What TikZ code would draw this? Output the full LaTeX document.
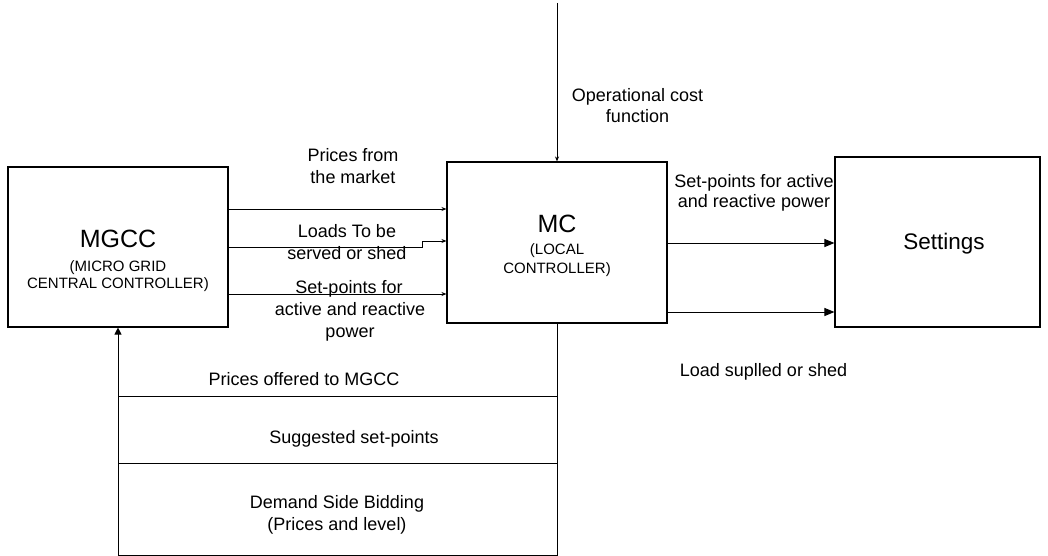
\documentclass[tikz,border=0pt]{standalone}
\usepackage{fontspec}
\setmainfont{Liberation Sans}
\usetikzlibrary{arrows.meta}
\begin{document}
\begin{tikzpicture}[x=1pt,y=-1pt,
  box/.style={draw, line width=1.1pt, inner sep=0pt},
  lbl/.style={anchor=base, inner sep=0pt, font=\fontsize{18}{21}\selectfont},
  ttl/.style={anchor=base, inner sep=0pt, font=\fontsize{25}{30}\selectfont},
  sub/.style={anchor=base, inner sep=0pt, font=\fontsize{15}{18}\selectfont},
  conn/.style={line width=1pt},
  sarr/.style={conn, -{Stealth[length=5pt,width=4pt]}},
  marr/.style={conn, -{Triangle[length=7pt,width=7pt]}},
  barr/.style={conn, -{Triangle[length=10pt,width=8pt]}}]
\useasboundingbox (0,0) rectangle (1048,556);

% boxes
\node[box, minimum width=220pt, minimum height=160pt] (mgcc) at (118,247) {};
\node[box, minimum width=220pt, minimum height=161pt] (mc) at (557,242.5) {};
\node[box, minimum width=205pt, minimum height=170pt] (set) at (937.5,242) {};

% box texts
\node[ttl] (mgccT) at (118,247) {MGCC};
\node[sub] (mgccS1) at (118,271) {(MICRO GRID};
\node[sub] (mgccS2) at (118,288.5) {CENTRAL CONTROLLER)};
\node[ttl] (mcT) at (557,232) {MC};
\node[sub] (mcS1) at (557,254) {(LOCAL};
\node[sub] (mcS2) at (557,273) {CONTROLLER)};
\node[lbl, font=\fontsize{22.5}{27}\selectfont] (setT) at (944,249) {Settings};

% coordinates
\coordinate (top) at (557,3);
\coordinate (br) at (557,555);
\coordinate (bl) at (118,555);
\coordinate (l1) at (118,396);
\coordinate (r1) at (557,396);
\coordinate (l2) at (118,463);
\coordinate (r2) at (557,463);
\coordinate (a1) at (300,209);
\coordinate (a2) at (300,247);
\coordinate (k1) at (422,247);
\coordinate (k2) at (422,241);
\coordinate (a3) at (300,294);
\coordinate (b1) at (750,243);
\coordinate (b2) at (750,312);

% connectors
\draw[sarr] (top) -- (mc.north);
\draw[conn] (mc.south) -- (br) -- (bl);
\draw[marr] (bl) -- (mgcc.south);
\draw[conn] (l1) -- (r1);
\draw[conn] (l2) -- (r2);
\draw[sarr] (mgcc.east |- a1) -- (mc.west |- a1);
\draw[sarr] (mgcc.east |- a2) -- (k1) -- (k2) -- (mc.west |- k2);
\draw[sarr] (mgcc.east |- a3) -- (mc.west |- a3);
\draw[barr] (mc.east |- b1) -- (set.west |- b1);
\draw[barr] (mc.east |- b2) -- (set.west |- b2);

% labels
\node[lbl] (op1) at (637.5,102) {Operational cost};
\node[lbl] (op2) at (637.5,123) {function};
\node[lbl] (pm1) at (353,162) {Prices from};
\node[lbl] (pm2) at (353,183) {the market};
\node[lbl] (ld1) at (347,237) {Loads To be};
\node[lbl] (ld2) at (347,259) {served or shed};
\node[lbl] (sp1) at (349,293) {Set-points for};
\node[lbl] (sp2) at (350,315) {active and reactive};
\node[lbl] (sp3) at (350,337) {power};
\node[lbl] (sr1) at (754,187) {Set-points for active};
\node[lbl] (sr2) at (754,207) {and reactive power};
\node[lbl] (ls) at (763.5,376) {Load suplled or shed};
\node[lbl] (po) at (304,385) {Prices offered to MGCC};
\node[lbl] (ss) at (354,443) {Suggested set-points};
\node[lbl] (db1) at (337,508) {Demand Side Bidding};
\node[lbl] (db2) at (337,530) {(Prices and level)};
\end{tikzpicture}
\end{document}
